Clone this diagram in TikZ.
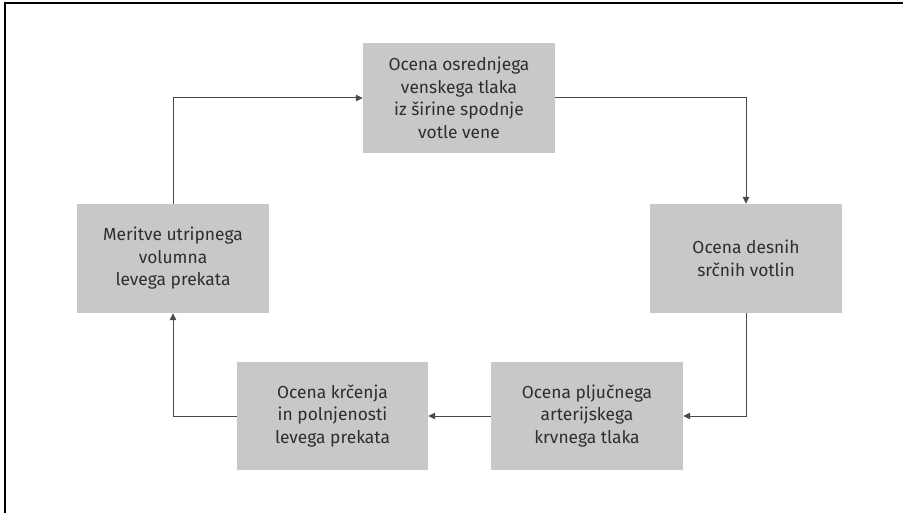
\documentclass[tikz,border=0pt]{standalone}
\usepackage{fontspec}
\setmainfont{Fira Sans}
\usetikzlibrary{arrows.meta}
\definecolor{boxgray}{HTML}{C8C8C8}
\definecolor{txtgray}{HTML}{2E2E2E}
\definecolor{linegray}{HTML}{4A4A4A}
\begin{document}
\begin{tikzpicture}[x=1pt,y=-1pt,
  stepbox/.style={rectangle,fill=boxgray,draw=none,minimum width=192pt,
    inner sep=0pt,align=center,text=txtgray,
    font=\fontsize{17.4}{22.5}\selectfont},
  conn/.style={draw=linegray,line width=1pt,-{Triangle[length=7pt,width=6.5pt]}}]
\useasboundingbox (0,0) rectangle (903,513);
\coordinate (fbl) at (5,513);
\coordinate (ftl) at (5,3);
\coordinate (ftr) at (903,3);
\draw[line width=1.6pt,black] (fbl) -- (ftl) -- (ftr);
\node[stepbox,minimum height=110pt] (T) at (459,98) {Ocena osrednjega\\venskega tlaka\\iz širine spodnje\\votle vene};
\node[stepbox,minimum height=109pt] (R) at (746,258.5) {Ocena desnih\\srčnih votlin};
\node[stepbox,minimum height=108pt] (BR) at (587,416) {Ocena pljučnega\\arterijskega\\krvnega tlaka};
\node[stepbox,minimum height=108pt,minimum width=191pt] (BL) at (332.5,416) {Ocena krčenja\\in polnjenosti\\levega prekata};
\node[stepbox,minimum height=109pt] (L) at (173,258.5) {Meritve utripnega\\volumna\\levega prekata};
\draw[conn] (L.north) |- (T.west);
\draw[conn] (T.east) -| (R.north);
\draw[conn] (R.south) |- (BR.east);
\draw[conn] (BR.west) -- (BL.east);
\draw[conn] (BL.west) -| (L.south);
\end{tikzpicture}
\end{document}
